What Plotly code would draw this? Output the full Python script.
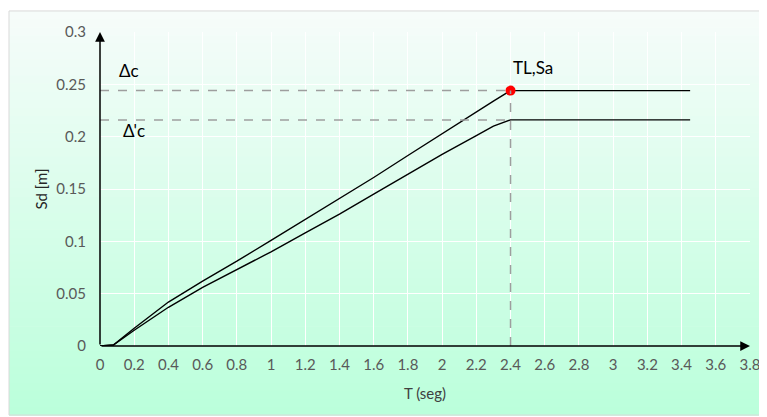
import plotly.graph_objects as go

# spectral displacement curves
t_upper = [0, 0.078, 0.2, 0.4, 0.6, 0.8, 1.0, 1.2, 1.4, 1.6, 1.8, 2.0, 2.2, 2.3, 2.4, 3.45]
sd_upper = [0, 0.001, 0.017, 0.042, 0.062, 0.081, 0.101, 0.121, 0.141, 0.161, 0.182, 0.203, 0.224, 0.234, 0.244, 0.244]

t_lower = [0, 0.078, 0.2, 0.4, 0.6, 0.8, 1.0, 1.2, 1.4, 1.6, 1.8, 2.0, 2.2, 2.3, 2.4, 3.45]
sd_lower = [0, 0.001, 0.015, 0.037, 0.056, 0.073, 0.090, 0.108, 0.126, 0.145, 0.164, 0.183, 0.201, 0.210, 0.216, 0.216]

tl = 2.4
delta_c = 0.244
delta_c_prime = 0.216

x_ticks = [round(0.2 * i, 1) for i in range(20)]
y_ticks = [0, 0.05, 0.1, 0.15, 0.2, 0.25, 0.3]

FONT = "Lato, 'Open Sans', sans-serif"

fig = go.Figure()

# background gradient (white-ish top -> mint bottom) drawn as strips in paper coords
top_rgb = (246, 252, 250)
bot_rgb = (187, 255, 219)
y_top, y_bot = 1.067, -0.22
x_left, x_right = -0.14, 1.023
n = 50
shapes = []
for i in range(n):
    f = i / (n - 1)
    c = tuple(round(top_rgb[k] + (bot_rgb[k] - top_rgb[k]) * f) for k in range(3))
    y1 = y_top - (y_top - y_bot) * i / n
    y0 = y_top - (y_top - y_bot) * (i + 1) / n
    shapes.append(dict(type="rect", xref="paper", yref="paper", x0=x_left, x1=x_right,
                       y0=y0 - 0.002, y1=y1, fillcolor=f"rgb{c}", line_width=0, layer="below"))
shapes.append(dict(type="rect", xref="paper", yref="paper", x0=x_left, x1=x_right,
                   y0=y_bot, y1=y_top, line=dict(color="#d9d9d9", width=1), layer="below"))

# dashed guides
guide = dict(color="#9e9e9e", width=1.5, dash="dash")
shapes.append(dict(type="line", x0=0, x1=tl, y0=delta_c, y1=delta_c, line=guide))
shapes.append(dict(type="line", x0=0, x1=tl, y0=delta_c_prime, y1=delta_c_prime, line=guide))
shapes.append(dict(type="line", x0=tl, x1=tl, y0=0, y1=delta_c, line=guide))

fig.add_trace(go.Scatter(x=t_upper, y=sd_upper, mode="lines", line=dict(color="black", width=1.4),
                         showlegend=False, hoverinfo="skip"))
fig.add_trace(go.Scatter(x=t_lower, y=sd_lower, mode="lines", line=dict(color="black", width=1.4),
                         showlegend=False, hoverinfo="skip"))
fig.add_trace(go.Scatter(x=[tl], y=[delta_c], mode="markers", marker=dict(color="#ff0000", size=10),
                         showlegend=False, hoverinfo="skip"))

annotations = [
    # axis arrows
    dict(x=3.8, y=0, ax=0, ay=0, xref="x", yref="y", axref="x", ayref="y", text="",
         showarrow=True, arrowhead=2, arrowsize=1.3, arrowwidth=1.5, arrowcolor="black"),
    dict(x=0, y=0.3, ax=0, ay=0, xref="x", yref="y", axref="x", ayref="y", text="",
         showarrow=True, arrowhead=2, arrowsize=1.3, arrowwidth=1.5, arrowcolor="black"),
    dict(x=0.17, y=0.263, xref="x", yref="y", text="Δc", showarrow=False,
         font=dict(family=FONT, size=17, color="black")),
    dict(x=0.2, y=0.206, xref="x", yref="y", text="Δ'c", showarrow=False,
         font=dict(family=FONT, size=17, color="black")),
    dict(x=2.53, y=0.266, xref="x", yref="y", text="TL,Sa", showarrow=False,
         font=dict(family=FONT, size=17, color="black")),
]

# the page body adds an 8px offset, so the figure is 8px smaller and margins shifted
fig.update_layout(
    width=759,
    height=409,
    margin=dict(l=92, r=17, t=24, b=71),
    paper_bgcolor="white",
    plot_bgcolor="rgba(0,0,0,0)",
    font=dict(family=FONT, size=15, color="#595959"),
    shapes=shapes,
    annotations=annotations,
    xaxis=dict(range=[0, 3.8], tickvals=x_ticks, showgrid=True, gridcolor="white", gridwidth=1,
               zeroline=False, showline=False, automargin=False,
               ticks="outside", ticklen=5, tickcolor="rgba(0,0,0,0)",
               tickfont=dict(size=15, color="#595959"),
               title=dict(text="T (seg)", font=dict(size=15, color="#404040"), standoff=16)),
    yaxis=dict(range=[0, 0.3], tickvals=y_ticks, showgrid=True, gridcolor="white", gridwidth=1,
               zeroline=False, showline=False, automargin=False,
               ticks="outside", ticklen=10, tickcolor="rgba(0,0,0,0)",
               tickfont=dict(size=15, color="#595959"),
               title=dict(text="Sd [m]", font=dict(size=15, color="#262626"), standoff=5)),
)

fig.write_html("out.html")
